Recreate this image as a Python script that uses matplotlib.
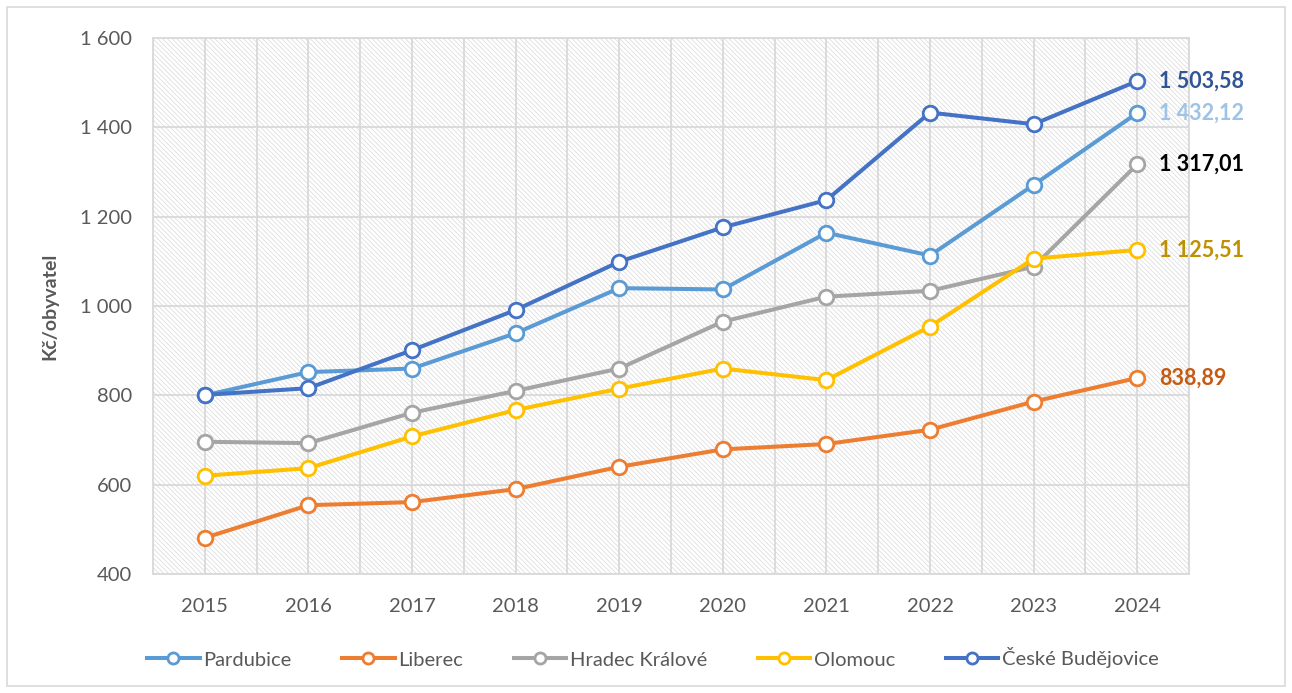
import matplotlib
matplotlib.use("Agg")
import matplotlib.pyplot as plt
from matplotlib.patches import Rectangle
from matplotlib.ticker import FixedLocator, FuncFormatter

plt.rcParams['font.family'] = ['Lato', 'DejaVu Sans']
plt.rcParams['hatch.linewidth'] = 0.5

years = ['2015', '2016', '2017', '2018', '2019', '2020', '2021', '2022', '2023', '2024']
series_names = ['Pardubice', 'Liberec', 'Hradec Králové', 'Olomouc', 'České Budějovice']
pardubice = [800, 852, 860, 939, 1040, 1037, 1164, 1113, 1271, 1432.12]
liberec = [481, 554, 561, 590, 640, 679, 691, 723, 786, 838.89]
hradec = [696, 693, 761, 810, 860, 965, 1021, 1034, 1088, 1317.01]
olomouc = [620, 637, 708, 767, 815, 860, 834, 954, 1106, 1125.51]
budejovice = [801, 816, 901, 991, 1099, 1176, 1237, 1433, 1407, 1503.58]
end_labels = ['1 432,12', '838,89', '1 317,01', '1 125,51', '1 503,58']

values = [pardubice, liberec, hradec, olomouc, budejovice]
line_colors = ['#5B9BD5', '#ED7D31', '#A5A5A5', '#FFC000', '#4472C4']
label_colors = ['#9DC3E6', '#C55A11', '#000000', '#BF9000', '#2F5597']

W, H = 1292, 693
fig = plt.figure(figsize=(W / 100, H / 100), dpi=100)
fig.patches.append(Rectangle((7 / W, 7 / H), (W - 14) / W, (H - 14) / H,
                             transform=fig.transFigure, fill=False,
                             edgecolor='#D9D9D9', linewidth=1.2))

ax = fig.add_axes([153 / W, 1 - 574 / H, (1189 - 153) / W, (574 - 38) / H])
ax.set_facecolor('white')
ax.add_patch(Rectangle((0, 0), 1, 1, transform=ax.transAxes, facecolor='white',
                       edgecolor='#D8D8D8', hatch='\\' * 7, linewidth=0, zorder=0))

x = list(range(len(years)))
for vals, c in zip(values, line_colors):
    ax.plot(x, vals, color=c, linewidth=2.9, marker='o', markersize=10.5,
            markerfacecolor='white', markeredgecolor=c, markeredgewidth=2.0,
            zorder=3)

for vals, lab, lc in zip(values, end_labels, label_colors):
    ax.annotate(lab, (x[-1], vals[-1]), xytext=(16, 0), textcoords='offset points',
                ha='left', va='center', fontsize=15.5, fontweight='bold', color=lc,
                annotation_clip=False)

ax.set_xlim(-0.5, len(years) - 0.5)
ax.set_ylim(400, 1600)
ax.set_xticks(x)
ax.set_xticklabels(years)
ax.xaxis.set_minor_locator(FixedLocator([i - 0.5 for i in range(len(years) + 1)]))
ax.set_yticks(range(400, 1601, 200))
ax.yaxis.set_major_formatter(FuncFormatter(lambda v, p: f"{int(v):,}".replace(',', ' ')))

ax.grid(True, which='major', color='#D9D9D9', linewidth=1.3, zorder=1)
ax.grid(True, which='minor', axis='x', color='#D9D9D9', linewidth=1.3, zorder=1)
ax.set_axisbelow(True)
ax.tick_params(which='both', length=0)
ax.tick_params(axis='y', pad=15, labelsize=14.5, labelcolor='#595959')
ax.tick_params(axis='x', pad=17, labelsize=14.5, labelcolor='#595959')
for s in ax.spines.values():
    s.set_color('#D9D9D9')
    s.set_linewidth(1.3)

ax.set_ylabel('Kč/obyvatel', fontsize=14, fontweight='bold', color='#595959', labelpad=16)

handles = ax.get_lines()
leg = fig.legend(handles, series_names, loc='center', bbox_to_anchor=(653 / W, 1 - 658 / H),
                 ncol=5, frameon=False, fontsize=14.5, handlelength=2.6,
                 columnspacing=2.5, handletextpad=0.2, labelcolor='#595959')
for h in leg.legend_handles:
    h.set_markersize(8)

fig.savefig('out.png', dpi=100)
